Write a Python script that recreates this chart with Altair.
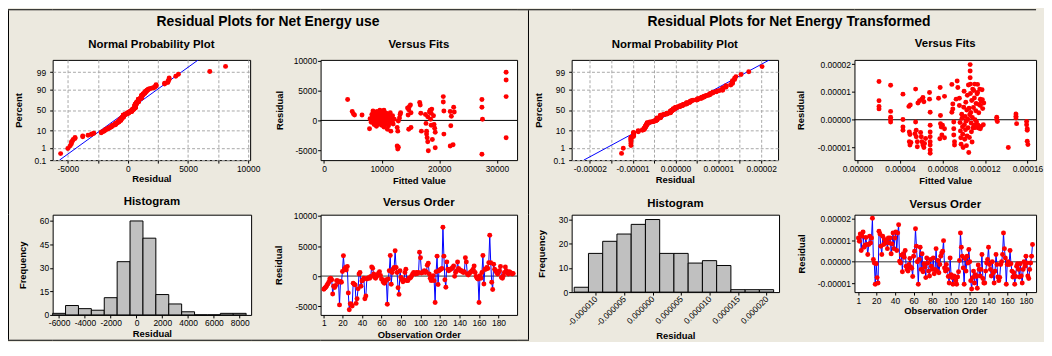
import altair as alt
import pandas as pd
from statistics import NormalDist, fmean, stdev

FONT = "Liberation Sans"
BG = "#ECE9DF"
RED = "#FF0000"
BLUE = "#0000FF"
BAR = "#C0C0C0"
DOT = 25

TITLE_L = "Residual Plots for Net Energy use"
TITLE_R = "Residual Plots for Net Energy Transformed"

# ---------------- Net Energy use ----------------
# residuals in observation order
resid_L = [
    -2200, -2000, -1850, -1580, -1310, -1040, -490, -380, -600, -3000,
    -1690, -1900, -1580, -760, -760, -1040, -4800, -900, -1040, 760,
    3380, 1140, 1420, 1000, 1580, -2830, -5600, -4600, -4700, -5000,
    -1200, -1360, -1470, -4550, -3760, -2130, 330, 600, -1690, -820,
    -600, -380, -3760, -3320, -490, -380, -270, -380, -50, 1530,
    1310, 330, -200, -380, 160, 50, 490, 710, 100, -490,
    -600, -1040, -1200, -900, -600, -4700, -490, 870, 3430, -1360,
    600, 1140, 1420, 4200, 1420, 600, -1960, -3050, 870, -220,
    -600, -930, -600, 600, 1140, -760, -760, -380, -380, -220,
    50, 330, 600, 490, 330, 600, 440, 600, 3980, 3050,
    490, 600, 710, 870, 600, 710, 1800, 2130, 330, -380,
    -760, -600, 50, -760, -4400, 710, 3320, -1420, 870, 1040,
    1140, 1250, 8120, 3320, -600, -1850, 2340, 1140, 870, 1040,
    1140, 1250, 1420, 1690, -50, 600, 870, 2340, 1250, 1040,
    870, 870, 710, 600, 710, 3050, 2340, 330, 160, 440,
    600, 710, 870, 1140, 1690, 600, -50, -380, -490, -4400,
    50, -380, 600, 3430, -1310, 1140, 1140, 1420, 1250, 2230,
    6810, 2230, -1040, -2230, 1960, 1140, 870, 600, 330, 600,
    870, 1580, -220, -380, 50, 600, 1530, 870, 600, 330,
    710, 600, 490, 330, 440,
]
# (fitted value, residual)
vf_L_pts = [
    (4100, 3500), (4900, 1500), (5100, 1100), (5300, 900), (6600, 900),
    (7900, -1400), (8000, 300), (8100, 100), (8200, -300), (8300, 1000), (8400, 600), (8500, 1600), (8500, -200),
    (8600, 400), (8700, -700), (8800, 900), (8900, 1300), (8900, -500), (9000, 200), (9100, 700), (9100, -1000),
    (9200, 1500), (9300, 300), (9300, -300), (9400, 900), (9500, 0), (9500, 1200), (9600, -600), (9700, 500),
    (9700, 1700), (9800, -200), (9800, 800), (9900, 200), (10000, 1100), (10000, -800), (10100, 400), (10200, 1500),
    (10200, -400), (10300, 700), (10300, 100), (10400, 1700), (10400, -1100), (10500, 300), (10600, 900), (10600, -300),
    (10700, 500), (10800, 1200), (10800, -700), (10900, 0), (11000, 800), (11000, -1500), (11100, 300), (11200, 1000),
    (11200, -900), (11300, 200), (11400, 600), (11400, -400), (11500, 1300), (11600, -1800), (11700, 400), (11800, -200),
    (11900, 800), (12000, -600), (12200, 200),
    (12700, -1200), (12800, -1800), (12900, -100), (13100, 400), (13200, 1000), (13300, 1300),
    (12700, -4300), (12800, -4800), (12900, -4500),
    (14500, 2100), (14700, 1800), (14800, 2300), (15000, 2600), (15100, 1300), (14700, -1500), (15100, -1200), (14600, 900),
    (16600, 3000), (16700, 2600), (16800, 1200), (16900, -1800),
    (17600, 1000), (17700, -500), (17800, -1800), (17800, -2300), (17900, -2900), (18000, -3600), (18100, -5100),
    (18000, 600), (18300, 1400), (18400, 1700), (18600, 1200), (18700, 1900), (18500, 200), (18600, -800),
    (18800, -3200), (19000, 800), (19100, -700), (19200, -1300), (19300, -2000), (19300, -4600),
    (20700, 4000), (20700, 3100), (20800, 1600), (20800, -2300),
    (21900, 1500), (22100, 700), (22000, -900), (21900, -4300), (22400, -4100), (22500, 2200), (22600, 1400),
    (27400, 3500), (27400, 2200), (27500, 200), (27400, -5700),
    (31600, 8100), (31600, 6800), (31600, 4000), (31600, -2900),
]
hist_L_center = [-6000, -5000, -4000, -3000, -2000, -1000, 0, 1000, 2000, 3000, 4000, 5000, 6000, 7000, 8000]
hist_L_count = [1, 6, 4, 3, 11, 34, 60, 49, 13, 7, 2, 0, 0, 1, 1]

# ---------------- Net Energy Transformed (values in units of 1e-6) ----------------
U = 1e-6
resid_R_u = [
    11, 9.5, 12.9, 5.2, 11.8, 13.8, 6.7, 7.7, 11.3, 8,
    3.4, 8, 11.8, 8.7, 11, 20.2, 1.1, -0.5, -10.4, -0.9,
    -7.3, -9.8, 14.1, 12.9, 7.2, 3.4, 11.8, 8, 10.3, 8.7,
    9.5, 6.1, 11, 8.7, 11, 3.7, 8.3, 13.3, 6.1, 11,
    13.8, 5.2, 13.3, 17.1, 0.3, -0.5, 3.1, -4.6, 3.7, 2.1,
    5.2, -2, -3.5, -4.3, -1.2, 1.5, -2.5, -3, -6.8, 2.6,
    4.9, 15.3, 7.2, 0, -10.4, 1.1, 6.7, -3.5, 3.7, -4.6,
    -0.9, -2.5, -7.3, 1.8, -0.5, -4.3, -6.6, 1.1, -2, -3.5,
    1.8, -5.5, -3.5, 6.1, -4.3, 0.6, -5.1, -1.2, 2.6, 4.1,
    4.9, 9.8, -2.8, -4.3, -1.2, -3.5, -6.8, -9.8, 1.8, -6,
    -7.3, -10.4, -6.6, -7, -8.7, -10.4, -7, -4.6, 0.6, 13.3,
    6.7, 2.6, -2.8, -10.4, 1.5, -4.3, 2.6, -0.5, 5.7, 0,
    -8.7, -12.6, -7.3, -4.3, -9.8, -6, -6.8, -12.2, -1.5, -3.5,
    -6.6, -3.5, 3.4, -7.7, -9.8, -9.8, -4.3, -0.5, 1.1, 6.7,
    -1.2, -3.5, -6.6, 0, -5.1, -9.8, -4.3, 3.4, -1.2, -7,
    -8.7, -7.2, -1.2, 0, 3.4, 13.3, 6.1, 1.8, -10.4, -1.2,
    0, -1.2, 5.2, -0.9, -4.3, -7, -5, -10.4, -6.8, -2,
    -0.9, -3.5, -7, -0.9, -6.6, -9.8, -3.5, 0, -2, 2.6,
    -0.5, -6.6, -7.7, -3.5, -0.5, 2.6, 8,
]
vf_R_pts_u = [
    (20.3, 13.7), (20.3, 6.8), (20.3, 4.8), (20.3, 3.9),
    (31.2, 12.4), (31.2, 3.0), (31.2, 0.9), (31.2, 0.1), (31.2, -0.8),
    (42.8, 9.2), (42.8, 0.1), (42.8, -2.6), (42.8, -3.8),
    (48.4, 4.8), (49.7, 5.3), (48.8, -4.4), (49.4, -5.3), (48.8, -7.9), (49.4, -9.1), (50.3, -8.2),
    (54.7, 11.0), (54.7, -0.8), (55.3, -3.8), (55.3, -6.1), (56.3, -7.9), (56.3, -9.7), (54.1, -5.0),
    (56.9, 6.0), (58.4, 6.8), (60.6, 7.4), (61.6, 8.0), (62.5, 6.5),
    (60.0, -6.1), (60.6, -7.9), (61.6, -9.1), (62.5, -10.0), (63.1, -8.5), (64.1, -6.7), (59.4, -4.6),
    (67.8, 9.8), (67.8, 7.4), (68.4, 2.7), (68.4, -2.0), (68.4, -4.4), (68.4, -6.1), (68.4, -7.9),
    (68.4, -9.1), (68.4, -10.9), (68.4, -12.0),
    (76.3, 7.7), (77.8, 11.6), (78.1, 1.5), (78.1, -1.4), (78.8, -2.6), (79.4, -5.5), (80.0, -2.0), (77.5, -6.8),
    (81.9, 8.4), (81.9, -3.2), (81.9, -6.5),
    (88.8, 12.7), (88.8, 2.7), (89.7, 5.7), (89.7, 3.9), (90.6, -0.8), (90.6, -3.2), (90.6, -5.5),
    (91.3, -7.9), (91.3, -9.1),
    (92.8, 7.4), (93.8, 13.9), (94.4, 11.6), (95.9, 7.7), (95.9, 5.1),
    (96.5, -1.0), (96.9, -4.0), (97.2, -6.5), (97.5, -8.8), (98.1, 2.0), (98.4, 0.5), (98.8, -2.5),
    (99.1, -5.2), (99.4, -10.0), (100.0, 4.5), (100.3, 10.2), (100.6, -1.8), (100.9, -7.0), (101.3, 1.2),
    (101.6, -3.6), (101.9, 6.3), (102.2, -0.5), (102.5, -9.3), (102.8, 3.5), (103.1, -5.8), (103.4, 8.8),
    (103.8, 0.2), (104.1, -2.9), (104.4, 12.5), (104.7, -11.8), (105.0, 4.1), (105.3, -6.4), (105.6, 1.8),
    (106.0, 19.8), (106.0, 17.5), (106.0, 15.1), (106.3, 12.8), (106.3, 9.4), (106.6, 2.6), (106.9, -1.2),
    (107.2, -4.3), (107.5, 6.9), (107.8, -8.0), (108.1, 0.8), (108.4, 11.0), (108.8, -3.0), (109.1, 4.4),
    (109.4, 10.5), (109.7, -2.0), (110.0, 7.8), (110.3, 12.8), (110.6, 0.0), (111.0, -2.8), (111.3, 3.2),
    (111.6, 5.8), (112.0, -0.8), (112.5, 9.3), (113.0, 12.7), (113.0, 9.8), (113.4, -2.0), (113.8, -3.0),
    (114.1, 2.5), (114.4, 5.5), (115.0, 11.0), (115.6, 7.4), (115.6, 5.1), (115.6, -3.2), (116.3, 6.8),
    (116.3, -2.4), (117.2, 10.8), (117.5, 7.2), (117.8, 4.0), (118.4, -1.8), (118.8, 6.0),
    (131.0, 0.9), (131.0, 0.1), (131.6, -0.6),
    (141.9, -10.0),
    (149.1, 2.1), (149.1, 1.3), (149.1, 0.6), (149.7, -1.4),
    (159.1, -0.6), (159.1, -1.8), (159.7, -3.2), (159.7, -3.8), (159.7, -7.7), (160.3, -8.9),
]
hist_R_center_u = [-12.5, -10, -7.5, -5, -2.5, 0, 2.5, 5, 7.5, 10, 12.5, 15, 17.5, 20]
hist_R_count = [2, 16, 21, 24, 28, 30, 16, 16, 12, 13, 11, 1, 1, 1]

# tick values
npp_L_xticks = [-5000, -2500, 0, 2500, 5000, 7500, 10000]
vf_L_xticks = [0, 10000, 20000, 30000]
resid_L_yticks = [-5000, 0, 5000, 10000]
hist_L_xticks = [-6000, -4000, -2000, 0, 2000, 4000, 6000, 8000]
hist_L_yticks = [0, 15, 30, 45, 60]
order_ticks = [1, 20, 40, 60, 80, 100, 120, 140, 160, 180]
npp_R_xticks_u = [-20, -15, -10, -5, 0, 5, 10, 15, 20]
vf_R_xticks_u = [0, 40, 80, 120, 160]
resid_R_yticks_u = [-10, 0, 10, 20]
hist_R_xticks_u = [-10, -5, 0, 5, 10, 15, 20]
hist_R_yticks = [0, 10, 20, 30]

# ---------------- helpers ----------------
nd = NormalDist()
ZMAX = nd.inv_cdf(0.999)
PCT_TICKS = [0.1, 1, 10, 50, 90, 99, 99.9]
Z_TICKS = [nd.inv_cdf(p / 100) for p in PCT_TICKS]
Z_LABEL = ("datum.value < -3 ? '0.1' : datum.value < -2 ? '1' : datum.value < -1 ? '10' : "
           "datum.value < 1 ? '50' : datum.value < 2 ? '90' : datum.value < 3 ? '99' : '99.9'")
MFIX = "replace(datum.label, '\u2212', '-')"
FRAME = alt.ViewBackground(fill="white", stroke="black", strokeWidth=1)


def sub_title(text, off, dy):
    return alt.Title(text, anchor="middle", frame="group", offset=off, baseline="middle", dy=dy,
                     font=FONT, fontSize=11.5, fontWeight="bold", color="black")


def axis(values, title, fmt=None, **kw):
    d = dict(values=values, title=title, labelExpr=MFIX)
    if fmt:
        d["format"] = fmt
    d.update(kw)
    return alt.Axis(**d)


def sc(dom):
    return alt.Scale(domain=dom, nice=False, zero=False)


def npp(res, w, h, xdom, xticks, xlab, fmt, ytx, xty, toff, tdy):
    s = sorted(res)
    n = len(s)
    pts = pd.DataFrame({"r": s, "z": [nd.inv_cdf((i + 0.7) / (n + 0.4)) for i in range(n)]})
    m, sd = fmean(res), stdev(res)
    fit = pd.DataFrame({"r": [m - ZMAX * sd, m + ZMAX * sd], "z": [-ZMAX, ZMAX]})
    x = alt.X("r:Q", scale=sc(xdom),
              axis=axis(xticks, "Residual", fmt, labelExpr=xlab, grid=True, titleX=w / 2, titleY=xty))
    y = alt.Y("z:Q", scale=sc([-ZMAX, ZMAX]),
              axis=axis(Z_TICKS, "Percent", labelExpr=Z_LABEL, grid=True, labelPadding=4,
                        titleX=ytx, titleY=h / 2))
    line = alt.Chart(fit).mark_line(color=BLUE, strokeWidth=1, clip=True).encode(x=x, y=y)
    dots = alt.Chart(pts).mark_circle(color=RED, size=DOT, opacity=1).encode(x=x, y=y)
    return alt.layer(line, dots).properties(width=w, height=h, view=FRAME,
                                            title=sub_title("Normal Probability Plot", toff, tdy))


def vfits(fit, res, w, h, xdom, xticks, xfmt, ydom, yticks, yfmt, ytx, xty, toff, tdy):
    df = pd.DataFrame({"f": fit, "r": res})
    x = alt.X("f:Q", scale=sc(xdom), axis=axis(xticks, "Fitted Value", xfmt, titleX=w / 2, titleY=xty))
    y = alt.Y("r:Q", scale=sc(ydom), axis=axis(yticks, "Residual", yfmt, titleX=ytx, titleY=h / 2))
    zero = alt.Chart(pd.DataFrame({"r": [0.0]})).mark_rule(color="black", strokeWidth=1).encode(y=y)
    dots = alt.Chart(df).mark_circle(color=RED, size=DOT, opacity=1).encode(x=x, y=y)
    return alt.layer(zero, dots).properties(width=w, height=h, view=FRAME,
                                            title=sub_title("Versus Fits", toff, tdy))


def vorder(res, w, h, xdom, ydom, yticks, yfmt, ytx, xty, toff, tdy):
    df = pd.DataFrame({"i": list(range(1, len(res) + 1)), "r": res})
    x = alt.X("i:Q", scale=sc(xdom), axis=axis(order_ticks, "Observation Order", "d", titleX=w / 2, titleY=xty))
    y = alt.Y("r:Q", scale=sc(ydom), axis=axis(yticks, "Residual", yfmt, titleX=ytx, titleY=h / 2))
    zero = alt.Chart(pd.DataFrame({"r": [0.0]})).mark_rule(color="#303030", strokeWidth=1).encode(y=y)
    line = alt.Chart(df).mark_line(color=BLUE, strokeWidth=1).encode(x=x, y=y)
    dots = alt.Chart(df).mark_circle(color=RED, size=DOT, opacity=1).encode(x=x, y=y)
    return alt.layer(zero, line, dots).properties(width=w, height=h, view=FRAME,
                                                  title=sub_title("Versus Order", toff, tdy))


def hist(centers, counts, half, w, h, xdom, xticks, xfmt, ydom, yticks, ytx, xty, toff, tdy, **xkw):
    df = pd.DataFrame({"c": centers, "n": counts})
    bars = alt.Chart(df).transform_calculate(
        lo=f"datum.c - {half}", hi=f"datum.c + {half}"
    ).mark_rect(fill=BAR, stroke="black", strokeWidth=1).encode(
        x=alt.X("lo:Q", scale=sc(xdom), axis=axis(xticks, "Residual", xfmt, titleX=w / 2, titleY=xty, **xkw)),
        x2="hi:Q",
        y=alt.Y("n:Q", scale=sc(ydom), axis=axis(yticks, "Frequency", "d", titleX=ytx, titleY=h / 2)),
        y2=alt.datum(0),
    )
    return bars.properties(width=w, height=h, view=FRAME, title=sub_title("Histogram", toff, tdy))


ONE = pd.DataFrame({"k": [0]})


def cell(w, h, fill=None, title=None):
    c = alt.Chart(ONE).mark_point(size=0, opacity=0).encode(x=alt.value(0), y=alt.value(0))
    props = {"width": w, "height": h}
    if fill:
        props["view"] = alt.ViewBackground(fill=fill)
    if title is not None:
        props["title"] = title
    return c.properties(**props)


def main_title(text, dx):
    return alt.Title(text, orient="bottom", anchor="middle", frame="group", offset=11.5, baseline="middle",
                     dx=dx, font=FONT, fontSize=14, fontWeight="bold", color="black")


# ---------------- panels ----------------
resid_R = [v * U for v in resid_R_u]

# column widths of the shared grid (left border, gap, plots A, gap, plots B, gap, divider, gap, plots C, gap, plots D)
COLS = [1, 44, 200, 70, 198, 11, 1, 43, 209, 76, 183]

npp_L = npp(resid_L, 199, 101, [-6262, 10165], npp_L_xticks,
            f"abs(round(datum.value)) % 5000 == 0 ? {MFIX} : ''", "d", -34, 19, 10.75, 7)
vf_L = vfits([p[0] for p in vf_L_pts], [p[1] for p in vf_L_pts], 198, 101, [-590, 33500], vf_L_xticks, "d",
             [-6670, 10170], resid_L_yticks, "d", -41.5, 21, 11.75, 11)
hist_L = hist(hist_L_center, hist_L_count, 500, 200, 101, [-6500, 8885], hist_L_xticks, "d",
              [0, 64], hist_L_yticks, -30, 19, 14, 13)
vo_L = vorder(resid_L, 198, 101, [-2.4, 199], [-6470, 10220], resid_L_yticks, "d", -42, 20, 11, 13)

npp_R = npp(resid_R, 208, 101, [-24.25 * U, 23.94 * U], [v * U for v in npp_R_xticks_u],
            f"round(datum.value * 1000000) % 10 == 0 ? {MFIX} : ''", ".5f", -33, 20, 10.75, 7)
vf_R = vfits([p[0] * U for p in vf_R_pts_u], [p[1] * U for p in vf_R_pts_u], 183, 101,
             [-2.8 * U, 168 * U], [v * U for v in vf_R_xticks_u], ".5f",
             [-14.5 * U, 21.5 * U], [v * U for v in resid_R_yticks_u], ".5f", -54, 21, 15, 11)
hist_R = hist([c * U for c in hist_R_center_u], hist_R_count, 1.25 * U, 209, 78,
              [-14.2 * U, 22.2 * U], [v * U for v in hist_R_xticks_u], ".6f",
              [0, 32], hist_R_yticks, -30, 44, 12, 13,
              labelAngle=315, labelAlign="right", labelBaseline="middle", labelPadding=2)
vo_R = vorder(resid_R, 183, 78, [-3.2, 190.8], [-14 * U, 21.8 * U], [v * U for v in resid_R_yticks_u], ".5f",
              -53, 19, 11.6, 13)

# ---------------- grid (flush layout, aligned columns) ----------------
NC = len(COLS)
R0 = [cell(w, 1, "black") for w in COLS]
R0[2] = cell(COLS[2], 1, "black", main_title(TITLE_L, 117))
R0[8] = cell(COLS[8], 1, "black", main_title(TITLE_R, 114.5))


def border_row(h):
    row = [cell(1, 1) for _ in range(NC)]
    row[0] = cell(1, h, "black")
    row[6] = cell(1, h, "black")
    return row


R1 = border_row(50)
R2 = [cell(1, 101, "black"), cell(1, 1), npp_L, cell(1, 1), vf_L, cell(1, 1), cell(1, 101, "black"),
      cell(1, 1), npp_R, cell(1, 1), vf_R]
R3 = border_row(55)
R4 = [cell(1, 101, "black"), cell(1, 1), hist_L, cell(1, 1), vo_L, cell(1, 1), cell(1, 101, "black"),
      cell(1, 1), hist_R, cell(1, 1), vo_R]
R5 = border_row(25)
R6 = [cell(w, 1, "black") for w in COLS[:7]] + [cell(1, 1) for _ in range(NC - 7)]

chart = alt.concat(
    *(R0 + R1 + R2 + R3 + R4 + R5 + R6),
    columns=NC, spacing=0, bounds="flush", align="each",
).properties(padding=0).configure(background=BG, font=FONT).configure_view(stroke=None).configure_axis(
    labelFont=FONT, labelFontSize=8.5, labelColor="black",
    titleFont=FONT, titleFontSize=9.5, titleFontWeight="bold", titleColor="black",
    titleAlign="center", titleBaseline="middle",
    tickColor="black", tickSize=3, domain=False, labelPadding=1,
    grid=False, gridColor="#A8A8A8", gridDash=[3, 2], gridWidth=1,
    labelOverlap=False, labelFlush=False,
).configure_title(font=FONT, color="black")

chart.save("out.html", embed_options={"renderer": "svg", "actions": False})
